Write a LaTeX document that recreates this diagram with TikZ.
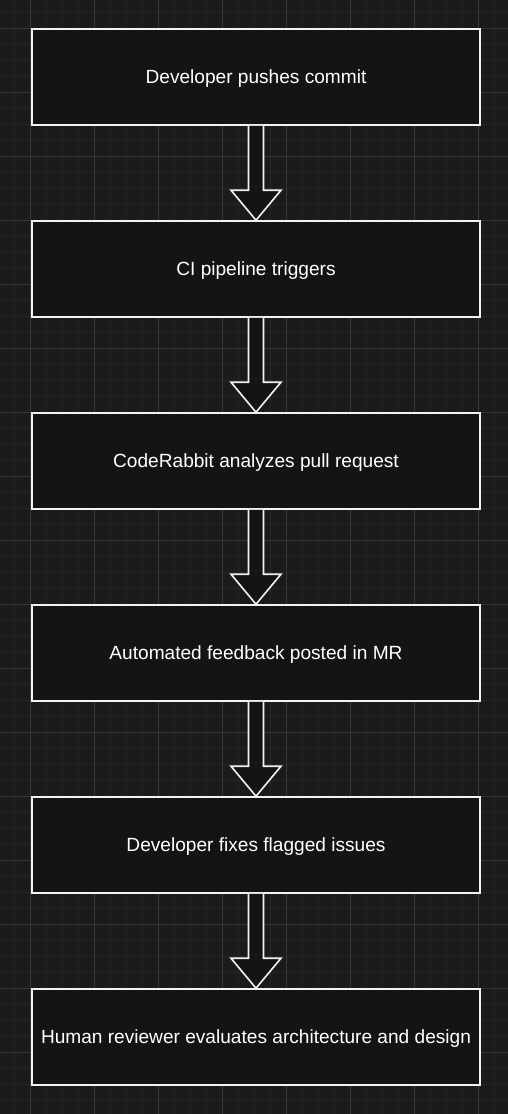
\documentclass[tikz,border=0pt]{standalone}
\usepackage{fontspec}
\setmainfont{Liberation Sans}
\usetikzlibrary{calc}
\definecolor{bgc}{HTML}{1B1B1B}
\definecolor{minorc}{HTML}{252525}
\definecolor{majorc}{HTML}{383838}
\definecolor{boxc}{HTML}{141414}
\definecolor{linec}{HTML}{F2F2F2}
\begin{document}
\begin{tikzpicture}[x=1pt,y=-1pt,
  stepbox/.style={draw=linec,fill=boxc,line width=1.6pt,minimum width=448pt,minimum height=96pt,inner sep=0pt,text height=13.7pt,text depth=0pt,text=white,font=\fontsize{19.1}{22}\selectfont},
  blockarrow/.style={draw=linec,fill=boxc,line width=1.6pt,line join=miter}]
\fill[bgc] (0,0) rectangle (508,1114);
\useasboundingbox (0,0) rectangle (508,1114);
% grid
\foreach \i in {0,...,31} {\draw[minorc,line width=1pt] (14.7+16*\i,0) -- (14.7+16*\i,1114);}
\foreach \j in {0,...,69} {\draw[minorc,line width=1pt] (0,12+16*\j) -- (508,12+16*\j);}
\foreach \i in {0,...,7} {\draw[majorc,line width=1pt] (30.7+64*\i,0) -- (30.7+64*\i,1114);}
\foreach \j in {0,...,17} {\draw[majorc,line width=1pt] (0,28+64*\j) -- (508,28+64*\j);}
% boxes
\node[stepbox] (b1) at (256,77) {Developer pushes commit};
\node[stepbox] (b2) at (256,269) {CI pipeline triggers};
\node[stepbox] (b3) at (256,461) {CodeRabbit analyzes pull request};
\node[stepbox] (b4) at (256,653) {Automated feedback posted in MR};
\node[stepbox] (b5) at (256,845) {Developer fixes flagged issues};
\node[stepbox] (b6) at (256,1037) {Human reviewer evaluates architecture and design};
% block arrows
\foreach \a/\b in {b1/b2,b2/b3,b3/b4,b4/b5,b5/b6} {
  \draw[blockarrow] ($(\a.south)+(-7.5,0)$) -- ($(\b.north)+(-7.5,-30)$) -- ($(\b.north)+(-25,-30)$) -- (\b.north) -- ($(\b.north)+(25,-30)$) -- ($(\b.north)+(7.5,-30)$) -- ($(\a.south)+(7.5,0)$);
}
\end{tikzpicture}
\end{document}
